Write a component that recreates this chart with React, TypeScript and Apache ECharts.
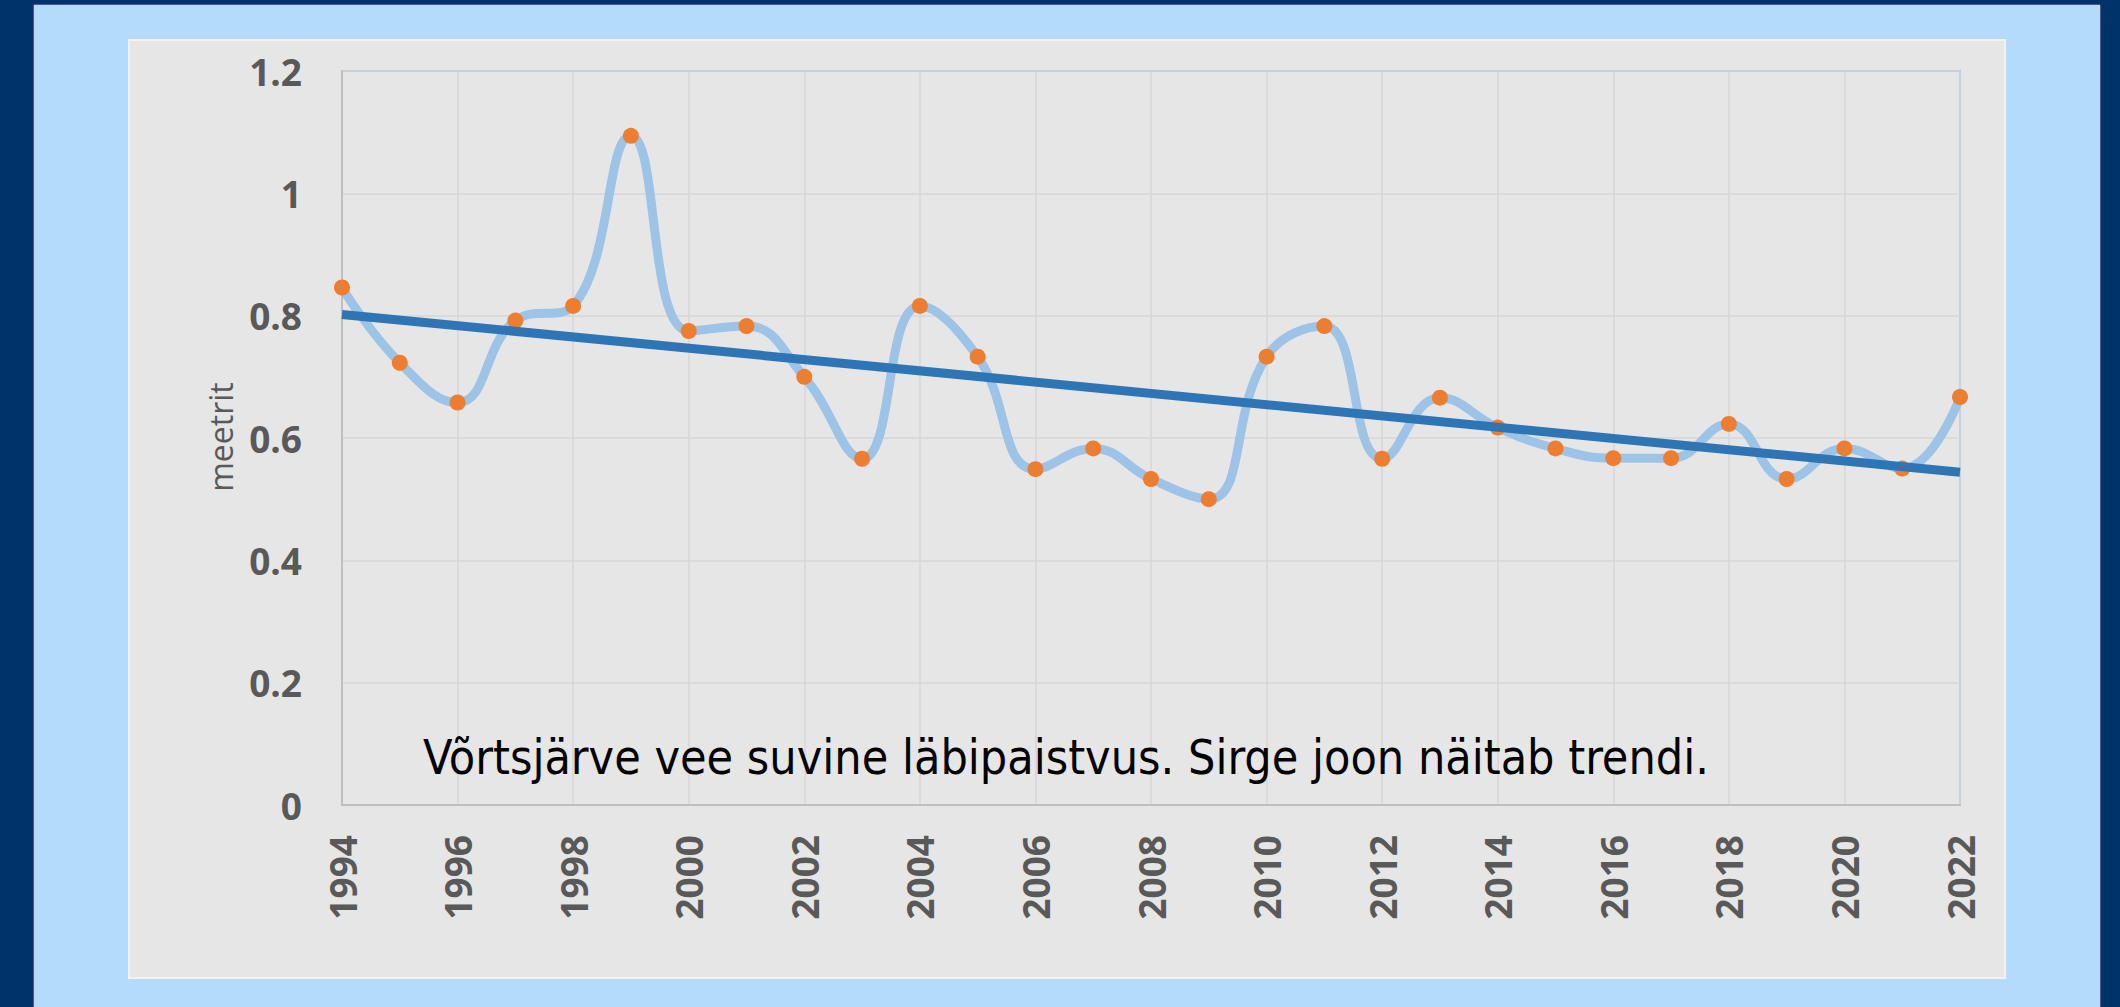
import React, { useEffect, useRef } from "react";
import * as echarts from "echarts";

const years = [1994, 1995, 1996, 1997, 1998, 1999, 2000, 2001, 2002, 2003, 2004, 2005, 2006, 2007, 2008, 2009, 2010, 2011, 2012, 2013, 2014, 2015, 2016, 2017, 2018, 2019, 2020, 2021, 2022];
const transparency = [0.846, 0.723, 0.658, 0.792, 0.816, 1.094, 0.775, 0.783, 0.700, 0.566, 0.816, 0.733, 0.549, 0.583, 0.533, 0.500, 0.733, 0.783, 0.566, 0.666, 0.617, 0.583, 0.567, 0.567, 0.623, 0.533, 0.583, 0.550, 0.667];
const trendYears = [1994, 2022];
const trendValues = [0.802, 0.544];
const yAxisName = "meetrit";
const noteText = "Võrtsjärve vee suvine läbipaistvus. Sirge joon näitab trendi.";

export default function App() {
  const ref = useRef<HTMLDivElement>(null);
  useEffect(() => {
    if (!ref.current) return;
    const chart = echarts.init(ref.current, undefined, { renderer: "svg" });
    const pts = years.map((y, i) => [y, transparency[i]]);
    const trend = trendYears.map((y, i) => [y, trendValues[i]]);
    chart.setOption({
      animation: false,
      backgroundColor: "#00336A",
      graphic: [
        {
          type: "rect",
          z: -10,
          shape: { x: 33, y: 4, width: 2068, height: 1010 },
          style: { fill: "#B4DCFA", stroke: "#1F2B6B", lineWidth: 1.5 },
          silent: true,
        },
        {
          type: "rect",
          z: -9,
          shape: { x: 129, y: 40, width: 1876, height: 938 },
          style: { fill: "#E6E6E6", stroke: "#F2F2F2", lineWidth: 2 },
          silent: true,
        },
        {
          type: "text",
          z: 10,
          x: 220,
          y: 437,
          rotation: Math.PI / 2,
          style: {
            text: yAxisName,
            fill: "#595959",
            font: "32px 'Open Sans'",
            align: "center",
            verticalAlign: "middle",
          },
        },
        {
          type: "text",
          z: 10,
          x: 423,
          y: 733,
          style: {
            text: noteText,
            fill: "#000000",
            font: "48px 'DejaVu Sans Condensed', 'DejaVu Sans'",
            align: "left",
            verticalAlign: "alphabetic",
          },
        },
      ],
      grid: {
        left: 342,
        top: 71,
        right: 160,
        bottom: 202,
        show: true,
        backgroundColor: "#E6E6E6",
        borderColor: "#9DC3E6",
        borderWidth: 2,
      },
      xAxis: {
        type: "value",
        min: 1994,
        max: 2022,
        interval: 2,
        axisLine: { show: true, lineStyle: { color: "#BFBFBF", width: 2 } },
        axisTick: { show: false },
        splitLine: { show: true, lineStyle: { color: "#D6D6D6", width: 1.5 } },
        axisLabel: {
          rotate: 90,
          margin: 30,
          color: "#595959",
          fontSize: 37,
          fontWeight: "bold",
          fontFamily: "'Open Sans'",
          formatter: (v: number) => String(v),
        },
      },
      yAxis: {
        type: "value",
        min: 0,
        max: 1.2,
        interval: 0.2,
        axisLine: { show: true, lineStyle: { color: "#BFBFBF", width: 2 } },
        axisTick: { show: false },
        splitLine: { show: true, lineStyle: { color: "#D6D6D6", width: 1.5 } },
        axisLabel: {
          margin: 40,
          color: "#595959",
          fontSize: 37,
          fontWeight: "bold",
          fontFamily: "'Open Sans'",
          formatter: (v: number) => String(Math.round(v * 10) / 10),
        },
      },
      series: [
        {
          type: "line",
          data: pts,
          smooth: 0.45,
          symbol: "none",
          lineStyle: { color: "#9DC3E6", width: 9 },
          z: 2,
        },
        {
          type: "scatter",
          data: pts,
          symbol: "circle",
          symbolSize: 16,
          itemStyle: { color: "#ED7D31", opacity: 1 },
          z: 3,
        },
        {
          type: "line",
          data: trend,
          symbol: "none",
          lineStyle: { color: "#2E75B6", width: 9 },
          z: 4,
        },
      ],
    });
    return () => chart.dispose();
  }, []);
  return (
    <div
      ref={ref}
      style={{ position: "absolute", left: 0, top: 0, width: 2120, height: 1007 }}
    />
  );
}
